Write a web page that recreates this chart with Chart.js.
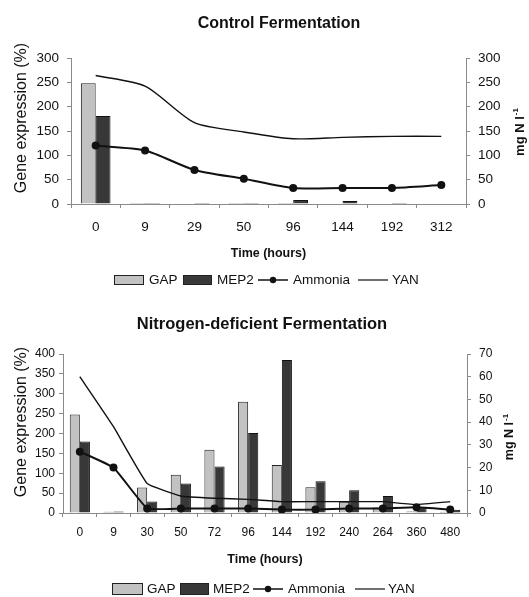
<!DOCTYPE html>
<html>
<head>
<meta charset="utf-8">
<script src="https://cdn.jsdelivr.net/npm/chart.js@4.4.1/dist/chart.umd.min.js"></script>
<style>
  html, body { margin: 0; padding: 0; background: #fff; }
  #wrap { position: relative; width: 529px; height: 597px; overflow: hidden; }
  canvas { position: absolute; left: 0; }
</style>
</head>
<body>
<div id="wrap">
  <canvas id="c1" width="529" height="300" style="top:0"></canvas>
  <canvas id="c2" width="529" height="297" style="top:300px"></canvas>
</div>
<script>
// ---------- Data: Control Fermentation ----------
const topCategories = ['0', '9', '29', '50', '96', '144', '192', '312'];
const topGAP      = [248, 2, 0, 2, 2, 0, 0, 0];
const topMEP2     = [181, 2, 2, 2, 8, 6, 2, 0];
const topAmmonia  = [120, 110, 70, 52, 33, 33, 33, 39];
const topYAN      = [264, 242, 167, 148, 134, 137, 139, 139];
const topLeftTicks  = { min: 0, max: 300, step: 50 };
const topRightTicks = { min: 0, max: 300, step: 50 };

// ---------- Data: Nitrogen-deficient Fermentation ----------
const botCategories = ['0', '9', '30', '50', '72', '96', '144', '192', '240', '264', '360', '480'];
const botGAP      = [248, 3, 64, 96, 159, 280, 121, 65, 28, 14, 4, 3];
const botMEP2     = [180, 4, 29, 74, 117, 201, 385, 80, 57, 43, 14, 8];
const botAmmonia  = [27, 20, 2, 2, 2, 2, 1.5, 1.5, 2, 2, 2.5, 1.5];
const botYAN      = [60, 38, 13, 7.5, 6.5, 6, 5, 5, 5, 5, 3.7, 5];
const botLeftTicks  = { min: 0, max: 400, step: 50 };
const botRightTicks = { min: 0, max: 70, step: 10 };

const SANS = "'Liberation Sans', Arial, Helvetica, sans-serif";
const AXIS = '#8a8a8a';
const INK = '#111';
const GAPC = '#c2c2c2';
const MEPC = '#383838';

function overlay(o) {
  return {
    id: 'overlay',
    afterDraw(chart) {
      const ctx = chart.ctx;
      const a = chart.chartArea;
      ctx.save();
      ctx.fillStyle = INK;
      // chart title
      ctx.font = 'bold ' + o.titleSize + 'px ' + SANS;
      ctx.textAlign = 'center';
      ctx.textBaseline = 'middle';
      ctx.fillText(o.title, o.titleX, o.titleY);
      // x-axis title
      ctx.font = 'bold ' + o.xtSize + 'px ' + SANS;
      ctx.fillText('Time (hours)', (a.left + a.right) / 2, o.xtY);
      // left y-axis title
      ctx.save();
      ctx.translate(o.ytX, o.ytY);
      ctx.rotate(-Math.PI / 2);
      ctx.font = o.ytSize + 'px ' + SANS;
      ctx.fillText('Gene expression (%)', 0, 0);
      ctx.restore();
      // right y-axis title: mg N l-1 (reads bottom to top)
      ctx.save();
      ctx.translate(o.rtX, o.rtY);
      ctx.rotate(-Math.PI / 2);
      ctx.textAlign = 'left';
      const main = 'mg N l';
      const supSize = Math.round(o.rtSize * 0.65);
      ctx.font = 'bold ' + o.rtSize + 'px ' + SANS;
      const w1 = ctx.measureText(main).width;
      ctx.font = 'bold ' + supSize + 'px ' + SANS;
      const w2 = ctx.measureText('-1').width;
      const start = -(w1 + w2 + 1) / 2;
      ctx.font = 'bold ' + o.rtSize + 'px ' + SANS;
      ctx.fillText(main, start, 0);
      ctx.font = 'bold ' + supSize + 'px ' + SANS;
      ctx.fillText('-1', start + w1 + 1, -o.rtSize * 0.35);
      ctx.restore();
      // legend
      const L = o.legend;
      const cy = L.y;
      ctx.font = L.size + 'px ' + SANS;
      ctx.textAlign = 'left';
      ctx.textBaseline = 'middle';
      ctx.lineWidth = 1;
      ctx.fillStyle = GAPC; ctx.strokeStyle = '#222';
      ctx.fillRect(L.gap[0], cy - L.bh / 2, L.gap[1] - L.gap[0], L.bh);
      ctx.strokeRect(L.gap[0] + 0.5, cy - L.bh / 2 + 0.5, L.gap[1] - L.gap[0] - 1, L.bh - 1);
      ctx.fillStyle = INK;
      ctx.fillText('GAP', L.gap[2], cy);
      ctx.fillStyle = MEPC;
      ctx.fillRect(L.mep[0], cy - L.bh / 2, L.mep[1] - L.mep[0], L.bh);
      ctx.strokeRect(L.mep[0] + 0.5, cy - L.bh / 2 + 0.5, L.mep[1] - L.mep[0] - 1, L.bh - 1);
      ctx.fillStyle = INK;
      ctx.fillText('MEP2', L.mep[2], cy);
      ctx.strokeStyle = INK; ctx.lineWidth = 1.5;
      ctx.beginPath(); ctx.moveTo(L.amm[0], cy); ctx.lineTo(L.amm[1], cy); ctx.stroke();
      ctx.beginPath(); ctx.arc((L.amm[0] + L.amm[1]) / 2, cy, 3.2, 0, Math.PI * 2); ctx.fill();
      ctx.fillText('Ammonia', L.amm[2], cy);
      ctx.lineWidth = 1.2;
      ctx.beginPath(); ctx.moveTo(L.yan[0], cy); ctx.lineTo(L.yan[1], cy); ctx.stroke();
      ctx.fillText('YAN', L.yan[2], cy);
      ctx.restore();
    }
  };
}

function makeChart(id, d) {
  const ctx = document.getElementById(id).getContext('2d');
  const tickFont = { family: SANS, size: d.tickSize };
  return new Chart(ctx, {
    data: {
      labels: d.categories,
      datasets: [
        { type: 'line', label: 'Ammonia', data: d.ammonia, yAxisID: 'y1', order: 0,
          borderColor: INK, backgroundColor: INK, borderWidth: 2, tension: d.tension,
          pointRadius: 4, pointHoverRadius: 4, pointBackgroundColor: INK, pointBorderWidth: 0 },
        { type: 'line', label: 'YAN', data: d.yan, yAxisID: 'y1', order: 0,
          borderColor: INK, borderWidth: 1.4, tension: d.tension, pointRadius: 0 },
        { type: 'bar', label: 'GAP', data: d.gap, yAxisID: 'y', order: 1,
          backgroundColor: GAPC, borderColor: '#222', borderWidth: 1 },
        { type: 'bar', label: 'MEP2', data: d.mep2, yAxisID: 'y', order: 1,
          backgroundColor: MEPC, borderColor: '#111', borderWidth: 1 }
      ]
    },
    options: {
      responsive: false,
      animation: false,
      devicePixelRatio: 1,
      layout: { padding: { top: d.padTop, left: 0, right: 0, bottom: 0 } },
      datasets: { bar: { categoryPercentage: 0.6, barPercentage: 1.0 } },
      plugins: { legend: { display: false }, title: { display: false }, tooltip: { enabled: false } },
      scales: {
        x: {
          type: 'category',
          offset: true,
          grid: { display: true, drawOnChartArea: false, drawTicks: true, tickLength: 4, color: AXIS, offset: true },
          border: { display: true, color: AXIS, width: 1 },
          ticks: { color: INK, font: tickFont, padding: d.xPad, maxRotation: 0, autoSkip: false },
          afterFit(s) { s.height = d.xHeight; }
        },
        y: {
          position: 'left',
          min: d.left.min, max: d.left.max,
          grid: { display: true, drawOnChartArea: false, drawTicks: true, tickLength: 4, color: AXIS },
          border: { display: true, color: AXIS, width: 1 },
          ticks: { stepSize: d.left.step, color: INK, font: tickFont, padding: d.yPad },
          afterFit(s) { s.width = d.leftW; }
        },
        y1: {
          position: 'right',
          min: d.right.min, max: d.right.max,
          grid: { display: true, drawOnChartArea: false, drawTicks: true, tickLength: 4, color: AXIS },
          border: { display: true, color: AXIS, width: 1 },
          ticks: { stepSize: d.right.step, color: INK, font: tickFont, padding: 8 },
          afterFit(s) { s.width = d.rightW; }
        }
      }
    },
    plugins: [overlay(d.overlay)]
  });
}

makeChart('c1', {
  categories: topCategories, gap: topGAP, mep2: topMEP2, ammonia: topAmmonia, yan: topYAN,
  left: topLeftTicks, right: topRightTicks, tension: 0.25,
  tickSize: 13.5, xPad: 11, yPad: 8,
  padTop: 58, xHeight: 96, leftW: 71, rightW: 63,
  overlay: {
    title: 'Control Fermentation', titleSize: 16, titleX: 279, titleY: 24,
    xtSize: 12.5, xtY: 254,
    ytSize: 16, ytX: 22, ytY: 118,
    rtSize: 13, rtX: 520, rtY: 132,
    legend: { y: 280, size: 13.5, bh: 10,
      gap: [114, 144, 149], mep: [183, 212, 217], amm: [258, 288, 293], yan: [358, 388, 392] }
  }
});

makeChart('c2', {
  categories: botCategories, gap: botGAP, mep2: botMEP2, ammonia: botAmmonia, yan: botYAN,
  left: botLeftTicks, right: botRightTicks, tension: 0.1,
  tickSize: 12, xPad: 8, yPad: 4,
  padTop: 54, xHeight: 84, leftW: 63, rightW: 62,
  overlay: {
    title: 'Nitrogen-deficient Fermentation', titleSize: 16.5, titleX: 262, titleY: 24,
    xtSize: 12.5, xtY: 260,
    ytSize: 16, ytX: 22, ytY: 122,
    rtSize: 12.5, rtX: 510, rtY: 137,
    legend: { y: 289, size: 13.5, bh: 12,
      gap: [112, 143, 147], mep: [180, 209, 213], amm: [253, 283, 288], yan: [355, 385, 388] }
  }
});
</script>
</body>
</html>
